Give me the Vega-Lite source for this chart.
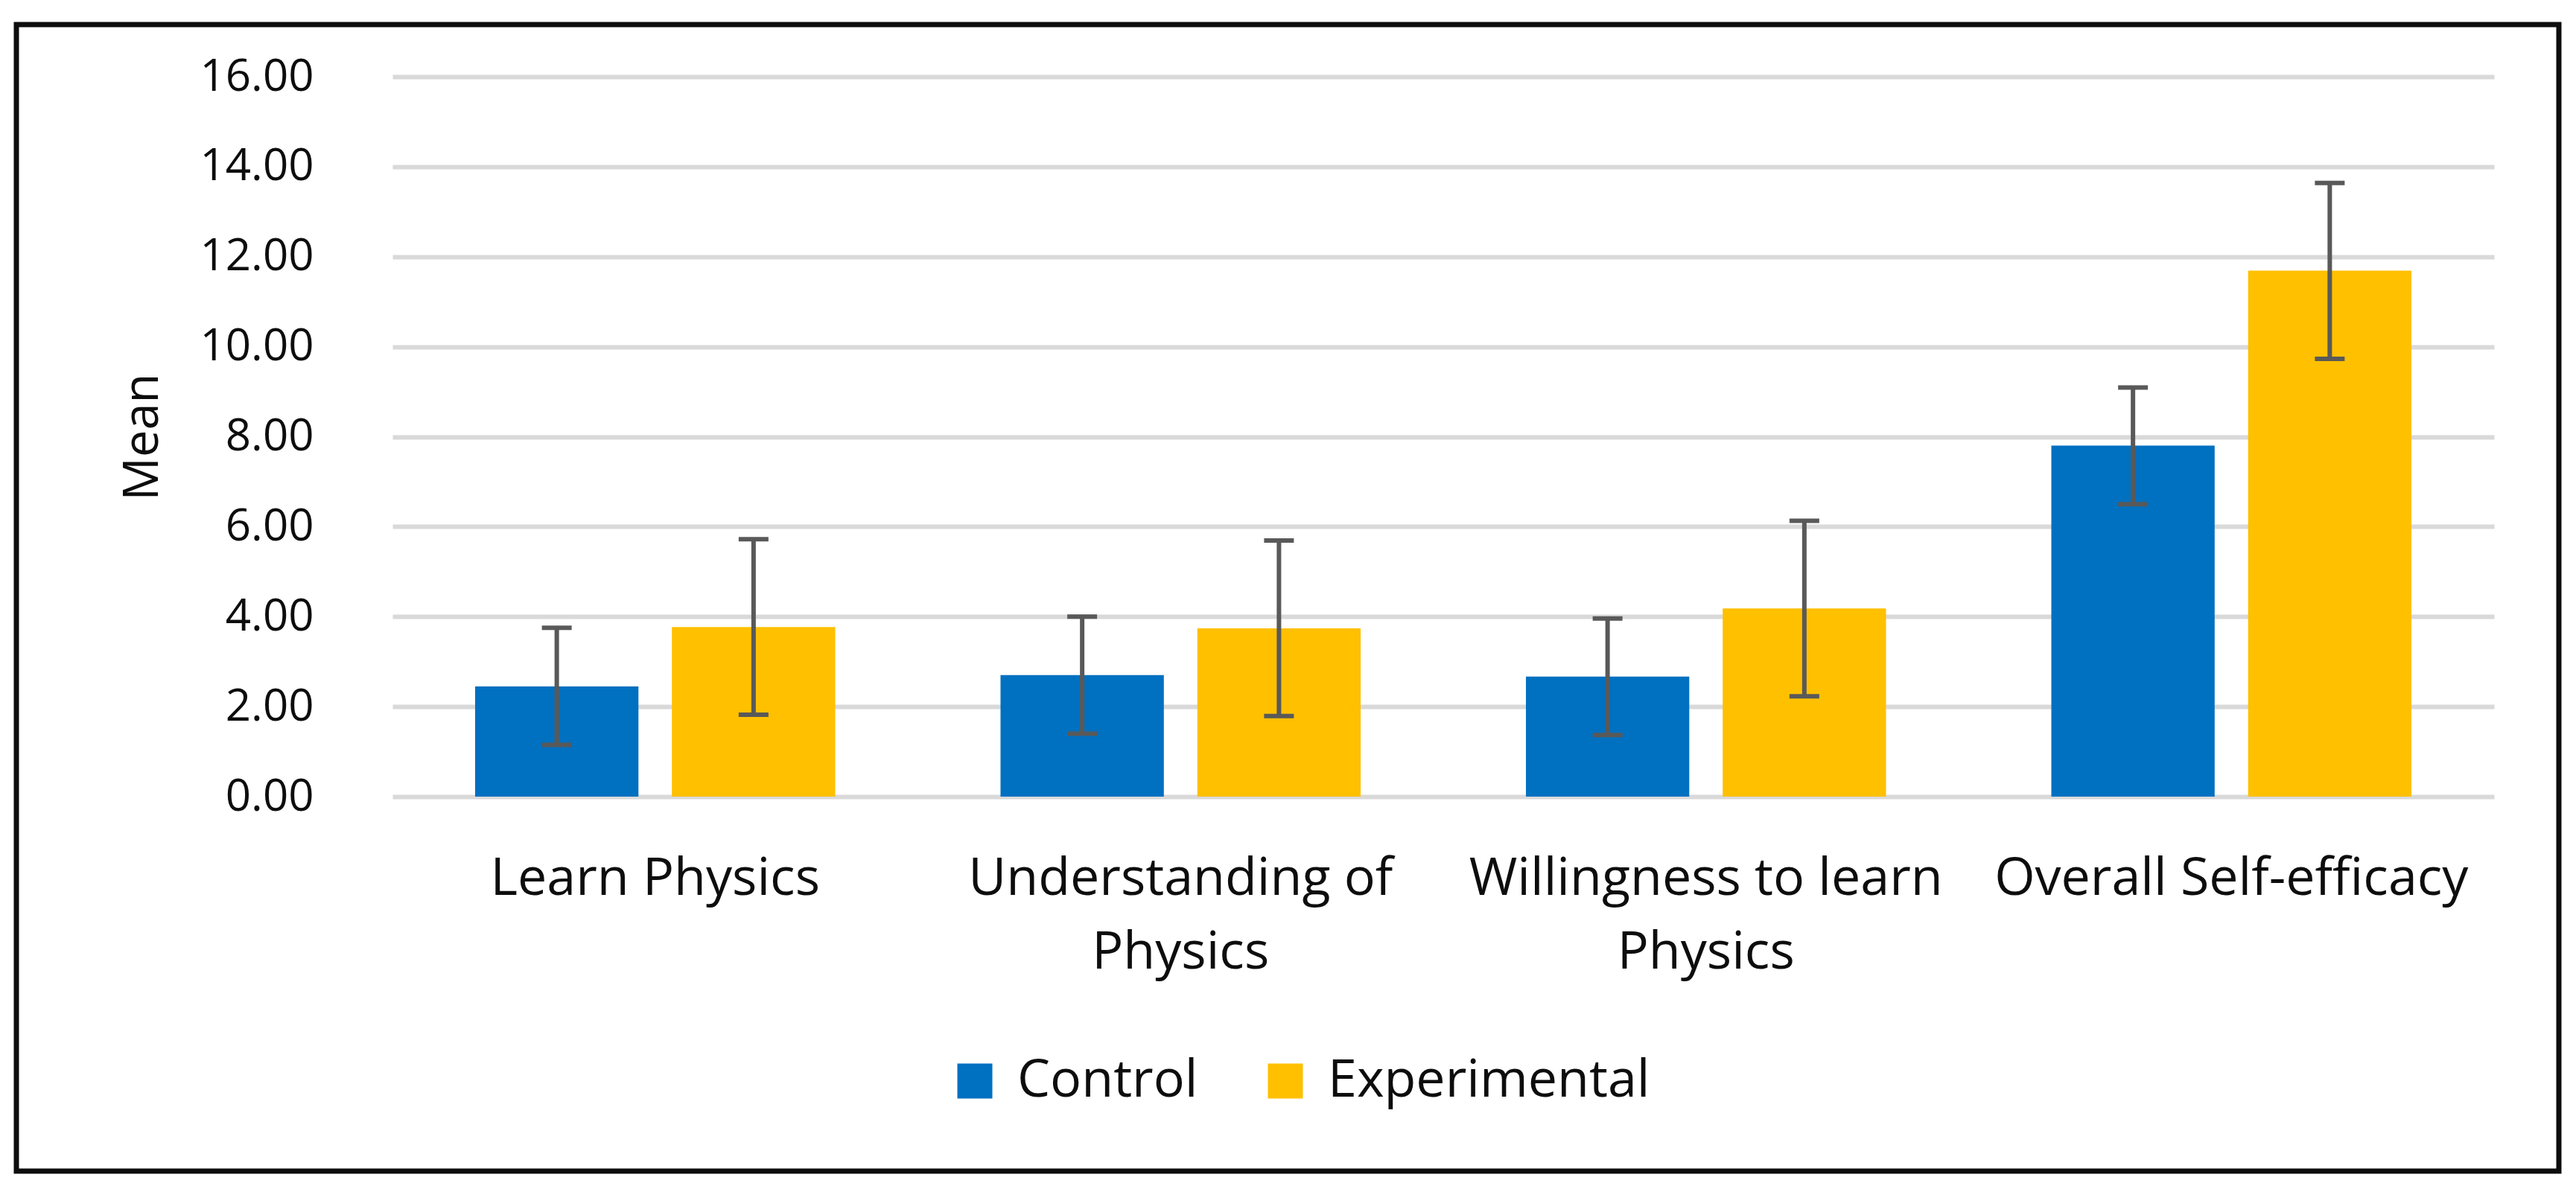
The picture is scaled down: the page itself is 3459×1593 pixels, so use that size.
{
  "$schema": "https://vega.github.io/schema/vega-lite/v6.json",
  "width": 3414,
  "height": 1540,
  "autosize": {"type": "none"},
  "padding": {"left": 22, "top": 33, "right": 23, "bottom": 20},
  "background": "white",
  "config": {
    "view": {"stroke": "#0d0d0d", "strokeWidth": 7},
    "font": "Open Sans",
    "axis": {"labelFont": "Open Sans", "titleFont": "Open Sans", "labelColor": "#0d0d0d", "titleColor": "#0d0d0d"},
    "legend": {"labelFont": "Open Sans"}
  },
  "data": {
    "values": [
      {"category": "Learn Physics", "group": "Control", "mean": 2.45, "lo": 1.15, "hi": 3.75},
      {"category": "Learn Physics", "group": "Experimental", "mean": 3.77, "lo": 1.82, "hi": 5.72},
      {"category": "Understanding of Physics", "group": "Control", "mean": 2.70, "lo": 1.40, "hi": 4.00},
      {"category": "Understanding of Physics", "group": "Experimental", "mean": 3.74, "lo": 1.79, "hi": 5.69},
      {"category": "Willingness to learn Physics", "group": "Control", "mean": 2.67, "lo": 1.37, "hi": 3.96},
      {"category": "Willingness to learn Physics", "group": "Experimental", "mean": 4.18, "lo": 2.23, "hi": 6.13},
      {"category": "Overall Self-efficacy", "group": "Control", "mean": 7.80, "lo": 6.50, "hi": 9.09},
      {"category": "Overall Self-efficacy", "group": "Experimental", "mean": 11.69, "lo": 9.73, "hi": 13.64}
    ]
  },
  "encoding": {
    "x": {
      "field": "category",
      "type": "nominal",
      "sort": null,
      "scale": {"range": [505, 3327], "paddingInner": 0, "paddingOuter": 0},
      "axis": {
        "title": null,
        "orient": "bottom",
        "offset": -503,
        "domain": false,
        "ticks": false,
        "grid": false,
        "labelAngle": 0,
        "labelFontSize": 70,
        "labelPadding": 76,
        "labelLineHeight": 99,
        "labelBaseline": "top",
        "labelLimit": 0,
        "labelOverlap": false,
        "labelExpr": "datum.value == 'Understanding of Physics' ? ['Understanding of', 'Physics'] : datum.value == 'Willingness to learn Physics' ? ['Willingness to learn', 'Physics'] : datum.value"
      }
    },
    "xOffset": {
      "field": "group",
      "type": "nominal",
      "sort": ["Control", "Experimental"],
      "scale": {"paddingInner": 0.17, "paddingOuter": 0.42}
    }
  },
  "layer": [
    {
      "mark": {"type": "bar"},
      "encoding": {
        "y": {
          "field": "mean",
          "type": "quantitative",
          "scale": {"domain": [0, 16], "range": [1037, 70], "nice": false},
          "axis": {
            "title": "Mean",
            "titleFontSize": 65,
            "titleFontWeight": "normal",
            "titlePadding": 102,
            "offset": -505,
            "values": [0, 2, 4, 6, 8, 10, 12, 14, 16],
            "format": ".2f",
            "domain": false,
            "ticks": false,
            "labelFontSize": 60,
            "labelPadding": 106,
            "labelLimit": 0,
            "gridColor": "#d9d9d9",
            "gridWidth": 6,
            "gridOpacity": 1
          }
        },
        "color": {
          "field": "group",
          "type": "nominal",
          "sort": ["Control", "Experimental"],
          "scale": {"domain": ["Control", "Experimental"], "range": ["#0070C0", "#FFC000"]},
          "legend": {
            "title": null,
            "orient": "none",
            "direction": "horizontal",
            "legendX": 1252,
            "legendY": 1384,
            "padding": 0,
            "symbolType": "square",
            "symbolSize": 2209,
            "symbolStrokeWidth": 0,
            "symbolOpacity": 1,
            "labelFontSize": 70,
            "labelLimit": 0,
            "labelColor": "#0d0d0d",
            "labelOffset": 22,
            "columnPadding": 82
          }
        }
      }
    },
    {
      "mark": {"type": "rule", "color": "#595959", "strokeWidth": 6},
      "encoding": {
        "y": {"field": "lo", "type": "quantitative"},
        "y2": {"field": "hi"}
      }
    },
    {
      "mark": {"type": "tick", "color": "#595959", "thickness": 6, "size": 40, "opacity": 1},
      "encoding": {
        "y": {"field": "lo", "type": "quantitative"}
      }
    },
    {
      "mark": {"type": "tick", "color": "#595959", "thickness": 6, "size": 40, "opacity": 1},
      "encoding": {
        "y": {"field": "hi", "type": "quantitative"}
      }
    }
  ]
}
